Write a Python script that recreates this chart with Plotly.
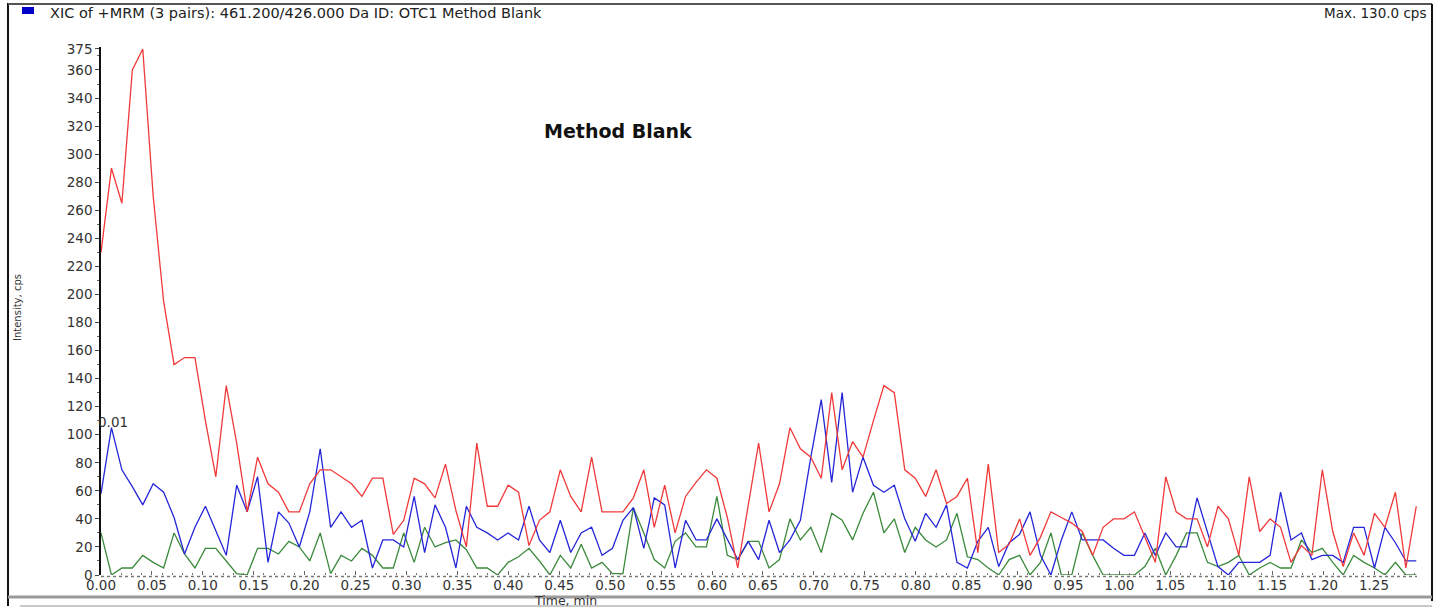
import plotly.graph_objects as go

# ---------------- data ----------------
sample_interval = 0.01025  # min
red_cps = [230,290,265,360,375,270,195,150,155,155,
           110,70,135,94,45,84,65,59,45,45,
           65,75,75,70,65,56,69,69,29,39,
           69,65,55,79,46,20,94,49,49,64,
           59,21,39,45,75,56,45,84,45,45,
           45,55,75,34,64,30,56,66,75,69,
           41,5,50,94,45,65,105,90,84,69,
           130,75,95,84,110,135,130,75,69,56,
           75,51,56,69,16,79,16,22,40,14,
           27,45,41,37,31,14,34,40,40,45,
           27,9,70,45,40,40,20,49,40,14,
           70,31,40,34,9,21,14,75,31,6,
           30,14,44,34,59,5,49]
blue_cps = [58,105,75,63,50,65,59,41,15,34,
            49,32,14,64,45,70,9,45,37,20,
            45,90,34,45,34,39,5,25,25,20,
            56,16,50,34,5,49,34,30,25,30,
            25,49,25,16,39,16,30,34,14,19,
            39,48,19,55,50,5,39,25,25,40,
            25,11,24,11,39,16,25,39,84,125,
            66,130,59,84,64,59,64,40,24,44,
            34,50,9,5,24,34,6,23,29,45,
            14,0,25,45,25,25,25,19,14,14,
            30,14,30,20,20,55,30,6,0,9,
            9,9,14,59,25,30,11,14,14,9,
            34,34,5,34,23,10,10]
green_cps = [30,0,5,5,14,9,5,30,15,5,
             19,19,10,1,0,19,19,15,24,20,
             10,30,1,14,10,19,14,5,5,30,
             9,34,20,23,25,18,5,5,0,9,
             13,19,10,0,14,5,22,5,9,1,
             1,48,30,11,5,24,30,20,20,56,
             14,11,24,24,5,11,40,25,34,16,
             44,39,25,44,59,30,40,16,34,25,
             20,25,44,13,11,5,0,11,14,0,
             9,30,0,0,30,14,0,0,0,0,
             6,19,0,14,30,30,9,6,9,14,
             0,5,9,5,5,25,16,19,9,0,
             14,9,5,0,9,0,0]
time_min = [round(i * sample_interval, 5) for i in range(len(red_cps))]

x_ticks = [i * 0.05 for i in range(26)]
x_ticklabels = ["%.2f" % v for v in x_ticks]
y_ticks = list(range(0, 361, 20)) + [375]
y_ticklabels = [str(v) for v in y_ticks]

header = "XIC of +MRM (3 pairs): 461.200/426.000 Da ID: OTC1 Method Blank"
max_text = "Max. 130.0 cps"
inner_title = "Method Blank"
peak_label = "0.01"

# ---------------- layout geometry (page pixel coords) ----------------
W, H = 1439, 611
L, R, T, B = 101, 1417, 47, 575
XMAX = (R - L) / 1018.4
YMAX = (B - T) / 1.4028

def P(px, py):
    return (px - L) / (R - L), (B - py) / (B - T)

FONT = "DejaVu Sans"

fig = go.Figure()
for vals, col in [(green_cps, "#3b8a3b"), (blue_cps, "#2626d9"), (red_cps, "#f03a3a")]:
    fig.add_trace(go.Scatter(x=time_min, y=vals, mode="lines",
                             line=dict(color=col, width=1.3),
                             showlegend=False, hoverinfo="skip"))

fig.add_trace(go.Scatter(x=[-0.004], y=[6], mode="markers",
                         marker=dict(symbol="triangle-right", size=8, color="#1c1c90"),
                         cliponaxis=False, showlegend=False, hoverinfo="skip"))

shapes = []
def line_px(x0, y0, x1, y1, color, width, dash="solid"):
    a, b = P(x0, y0)
    c, d = P(x1, y1)
    shapes.append(dict(type="line", xref="paper", yref="paper", x0=a, y0=b, x1=c, y1=d,
                       line=dict(color=color, width=width, dash=dash), layer="above"))

line_px(8, 3, 8, 606, "#111", 2)
line_px(8, 4, 1432, 4, "#555", 2)
line_px(1432, 4, 1432, 601, "#111", 2)
line_px(8, 597, 1432, 597, "#9a9a9a", 3)
line_px(20, 606, 1432, 606, "#c8c8c8", 2)
line_px(101, 576.5, 1417, 576.5, "#777", 1.5, "dot")
a, b = P(22, 7); c, d = P(34, 14)
shapes.append(dict(type="rect", xref="paper", yref="paper", x0=a, y0=b, x1=c, y1=d,
                   fillcolor="#0000c8", line=dict(width=0)))

ann = []
def text_px(px, py, txt, size, xanchor="center", bold=False, color="#222", angle=0):
    a, b = P(px, py)
    ann.append(dict(x=a, y=b, xref="paper", yref="paper", text=("<b>%s</b>" % txt) if bold else txt,
                    showarrow=False, xanchor=xanchor, yanchor="middle", textangle=angle,
                    font=dict(family=FONT, size=size, color=color)))

text_px(48, 13.5, header, 14.5, "left")
text_px(1428, 13.5, max_text, 13.5, "right")
text_px(618, 131, inner_title, 19, "center", bold=True, color="#111")
text_px(113, 422, peak_label, 13.5, "center", color="#333")
text_px(565, 600, "Time, min", 12.5, "center", color="#333")
text_px(17, 308, "Intensity, cps", 10, "center", color="#333", angle=-90)

fig.update_layout(
    width=W, height=H,
    margin=dict(l=L, r=W - R, t=T, b=H - B, pad=0),
    plot_bgcolor="white", paper_bgcolor="white",
    shapes=shapes, annotations=ann,
    xaxis=dict(range=[0, XMAX], tickmode="array", tickvals=x_ticks, ticktext=x_ticklabels,
               showgrid=False, zeroline=False, showline=False,
               ticks="inside", ticklen=4, tickcolor="#666", tickwidth=1,
               minor=dict(dtick=0.01, ticks="inside", ticklen=2, tickcolor="#777"),
               tickfont=dict(family=FONT, size=13.5, color="#333")),
    yaxis=dict(range=[0, YMAX], tickmode="array", tickvals=y_ticks, ticktext=y_ticklabels,
               showgrid=False, zeroline=False, showline=True, linecolor="#111", linewidth=1.5,
               ticks="outside", ticklen=4, tickcolor="#444",
               minor=dict(dtick=10, ticks="outside", ticklen=2, tickcolor="#666"),
               tickfont=dict(family=FONT, size=13.5, color="#333")),
)

# remove the default page margin so the figure sits at the window's top-left corner
fig.write_html("out.html",
               config={"displayModeBar": False},
               post_script="document.body.style.margin='0px';document.body.style.overflow='hidden';")
